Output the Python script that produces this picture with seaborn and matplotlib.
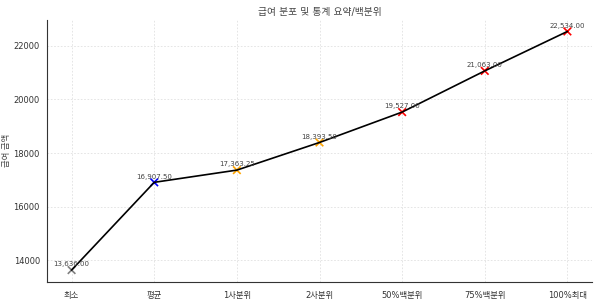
import matplotlib
matplotlib.use("Agg")
import matplotlib.pyplot as plt
import seaborn as sns
import pandas as pd

categories = ["최소", "평균", "1사분위", "2사분위", "50%백분위", "75%백분위", "100%최대"]
values = [13636.00, 16907.50, 17363.25, 18393.50, 19527.00, 21063.00, 22534.00]
marker_colors = ["gray", "blue", "orange", "orange", "red", "red", "red"]
title = "급여 분포 및 통계 요약/백분위"
ylabel = "급여 금액"

sns.set_style("whitegrid")
plt.rcParams["font.family"] = ["DejaVu Sans", "Noto Sans CJK KR"]

df = pd.DataFrame({"cat": categories, "val": values, "x": range(len(categories))})

fig, ax = plt.subplots(figsize=(6, 3), dpi=100)
sns.scatterplot(data=df, x="x", y="val", hue="cat", palette=dict(zip(categories, marker_colors)),
                marker="x", s=30, linewidth=1.2, legend=False, ax=ax, zorder=2)
sns.lineplot(data=df, x="x", y="val", color="black", linewidth=1.2, ax=ax, zorder=3, sort=False)

for xi, v in zip(df["x"], values):
    ax.annotate(f"{v:,.2f}", (xi, v), xytext=(0, 2), textcoords="offset points",
                ha="center", va="bottom", fontsize=5, color="#444444", zorder=4)

ax.set_xticks(df["x"])
ax.set_xticklabels(categories)
ax.set_xlabel("")
ax.set_ylabel(ylabel, fontsize=6, color="#444444")
ax.yaxis.label.set_va("center")
ax.yaxis.set_label_coords(-0.074, 0.5)
ax.set_title(title, fontsize=7, color="#444444", pad=3)
ax.margins(x=0.05, y=0.05)

ax.grid(True, linestyle=(0, (2, 2)), color="#e0e0e0", linewidth=0.6)
for s in ["top", "right"]:
    ax.spines[s].set_visible(False)
for s in ["left", "bottom"]:
    ax.spines[s].set_color("#333333")
    ax.spines[s].set_linewidth(0.8)
ax.tick_params(axis="both", labelsize=6, colors="#333333", length=3, width=0.6)
ax.tick_params(axis="y", pad=2)

fig.subplots_adjust(left=0.078, right=0.987, top=0.935, bottom=0.06)
fig.savefig("out.png", dpi=100)
